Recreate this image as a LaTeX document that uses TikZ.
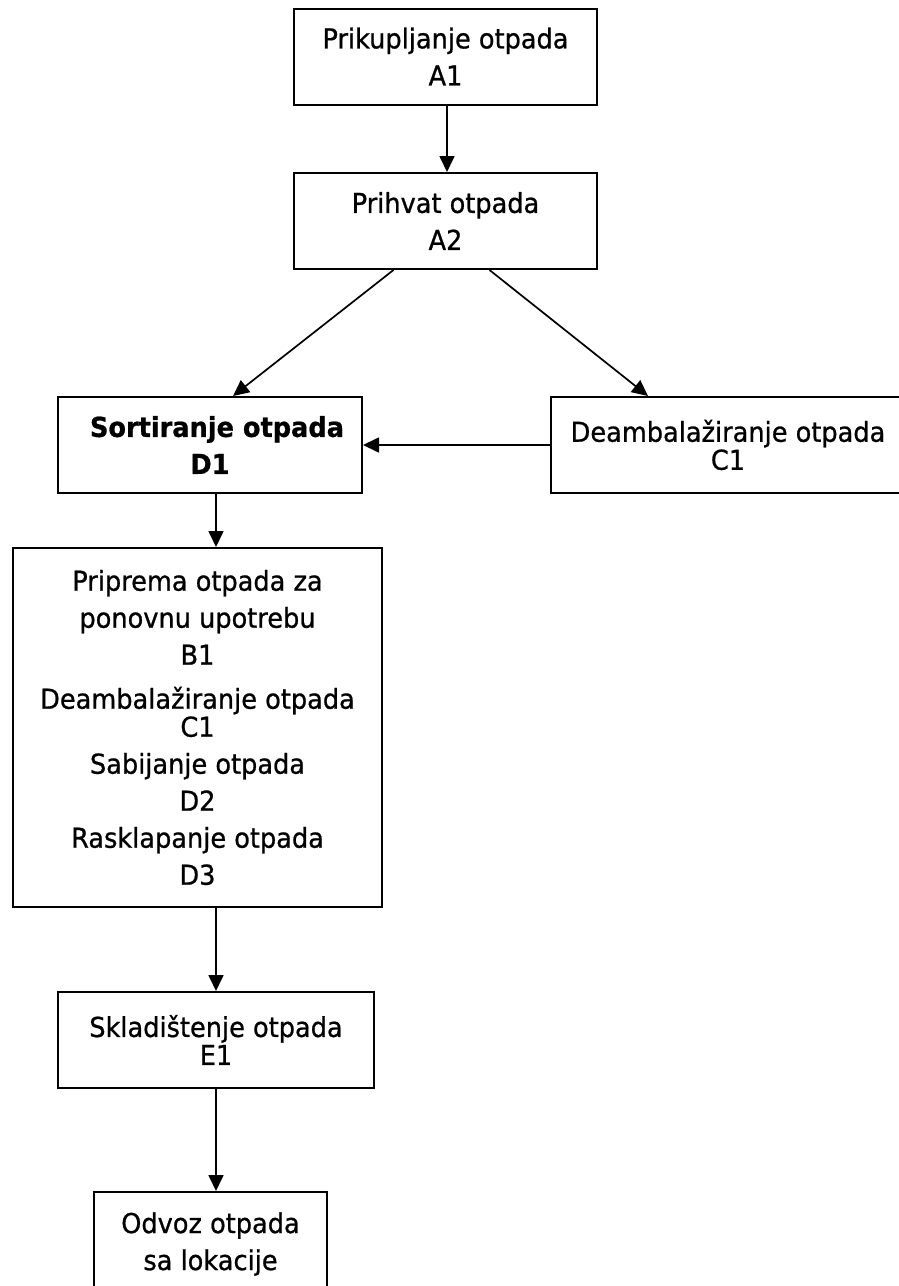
\documentclass[tikz,border=0pt]{standalone}
\usepackage{fontspec}
\setmainfont[FakeStretch=0.935,FakeBold=0.8]{DejaVu Sans}
\usetikzlibrary{arrows.meta}
\newcommand{\redak}{\fontsize{13.7pt}{18.5pt}\selectfont}

\begin{document}
\begin{tikzpicture}[x=0.5pt,y=-0.5pt,blok/.style={draw,line width=1pt,align=center,inner sep=0pt,minimum height=48pt,font=\redak},strelica/.style={-{Triangle[length=8pt,width=7.5pt]},line width=0.85pt}]
    \useasboundingbox (0,0) rectangle (899,1286);
    \node[blok,minimum width=151.5pt] (A1) at (445.5,56.5) {Prikupljanje otpada\\A1};
    \node[blok,minimum width=151.5pt] (A2) at (445.5,221) {Prihvat otpada\\A2};
    \node[blok,minimum width=152pt,font=\redak\bfseries] (D1) at (210,445) {\hspace*{7pt}Sortiranje otpada\\D1};
    \node[blok,minimum width=177pt] (C1) at (728,445) {Deambalažiranje otpada\\[-4.5pt]C1};
    \node[blok,minimum width=184.5pt,minimum height=179.5pt] (B) at (197.5,727.5) {Priprema otpada za\\ponovnu upotrebu\\B1\\[3.5pt]Deambalažiranje otpada\\[-4.5pt]C1\\Sabijanje otpada\\D2\\Rasklapanje otpada\\D3};
    \node[blok,minimum width=158pt] (E1) at (216,1040) {Skladištenje otpada\\[-4.5pt]E1};
    \node[blok,minimum width=116.5pt,minimum height=52pt] (O) at (210.5,1244) {Odvoz otpada\\sa lokacije};
    \draw[strelica] ([xshift=0.75pt]A1.south) -- ([xshift=0.75pt]A2.north);
    \draw[strelica] ([xshift=-26pt]A2.south) -- ([xshift=11.5pt]D1.north);
    \draw[strelica] ([xshift=22pt]A2.south) -- ([xshift=-40pt]C1.north);
    \draw[strelica] (C1.west) -- (D1.east);
    \draw[strelica] (D1.south -| E1.north) -- (B.north -| E1.north);
    \draw[strelica] (B.south -| E1.north) -- (E1.north);
    \draw[strelica] (E1.south) -- (E1.south |- O.north);
    \end{tikzpicture}
\end{document}
